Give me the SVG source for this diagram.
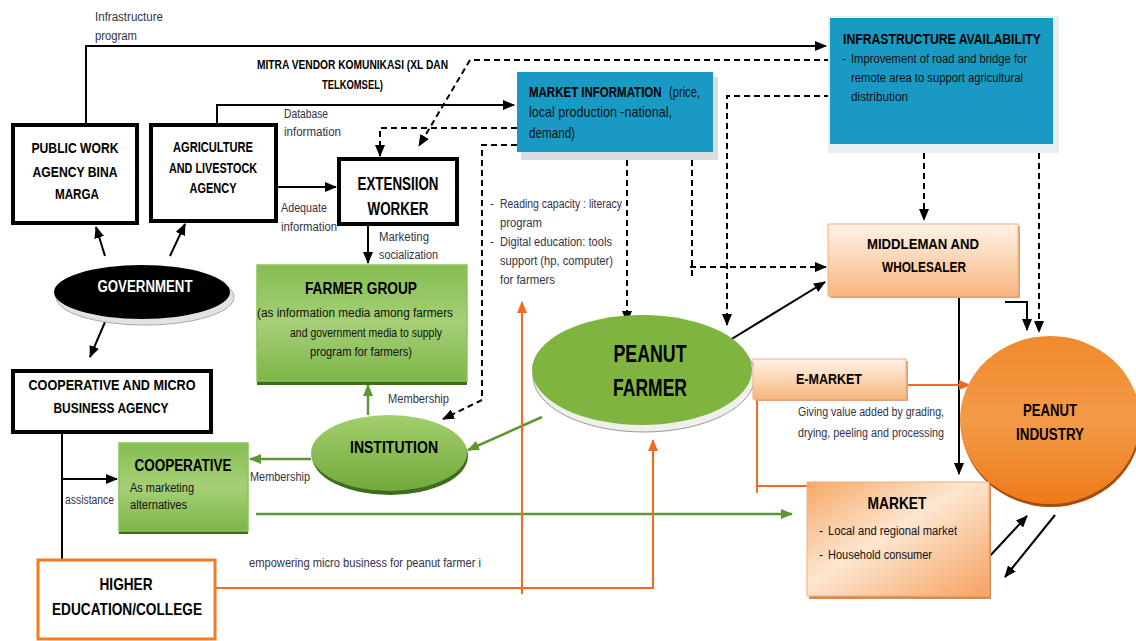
<svg xmlns="http://www.w3.org/2000/svg" width="1136" height="641" viewBox="0 0 1136 641">
<style>
text{font-family:"Liberation Sans",Arial,sans-serif;}
.b{font-weight:bold;fill:#000;}
.lbl{font-size:12px;fill:#333344;}
.d{fill:#111;}
.c{text-anchor:middle;}
.box{fill:#fff;stroke:#000;stroke-width:4;}
.ln{fill:none;stroke:#000;stroke-width:2;}
.dash{fill:none;stroke:#000;stroke-width:2;stroke-dasharray:6 4;}
.gl{fill:none;stroke:#5e9732;stroke-width:2.5;}
.ol{fill:none;stroke:#f26a22;stroke-width:2;}
</style>
<defs>
<marker id="ab" markerUnits="userSpaceOnUse" markerWidth="12" markerHeight="10" refX="11" refY="5" orient="auto"><path d="M0,0 L12,5 L0,10 Z" fill="#000"/></marker>
<marker id="ag" markerUnits="userSpaceOnUse" markerWidth="12" markerHeight="10" refX="11" refY="5" orient="auto"><path d="M0,0 L12,5 L0,10 Z" fill="#5e9732"/></marker>
<marker id="ao" markerUnits="userSpaceOnUse" markerWidth="12" markerHeight="10" refX="11" refY="5" orient="auto"><path d="M0,0 L12,5 L0,10 Z" fill="#f26a22"/></marker>
<linearGradient id="gGreen" x1="0" y1="0" x2="0" y2="1"><stop offset="0" stop-color="#86bd52"/><stop offset="0.5" stop-color="#a6d077"/><stop offset="1" stop-color="#7db548"/></linearGradient>
<linearGradient id="gPeach" x1="0" y1="0" x2="0" y2="1"><stop offset="0" stop-color="#fff3e8"/><stop offset="1" stop-color="#f8b67f"/></linearGradient>
<linearGradient id="gMarket" x1="0" y1="0" x2="1" y2="1"><stop offset="0" stop-color="#f6a868"/><stop offset="0.45" stop-color="#fde6d0"/><stop offset="1" stop-color="#f5a262"/></linearGradient>
<linearGradient id="gOrange" x1="0" y1="0" x2="0" y2="1"><stop offset="0" stop-color="#f08a2c"/><stop offset="0.5" stop-color="#f39a48"/><stop offset="1" stop-color="#ee7a18"/></linearGradient>
<linearGradient id="gInst" x1="0" y1="0" x2="0" y2="1"><stop offset="0" stop-color="#a3cf6e"/><stop offset="1" stop-color="#72a93c"/></linearGradient>
</defs>

<g id="connectors">
<path class="ln" d="M86,124 V46 H826" marker-end="url(#ab)"/>
<path class="ln" d="M217,124 V105 H514" marker-end="url(#ab)"/>
<path class="ln" d="M277,187 H336" marker-end="url(#ab)"/>
<path class="ln" d="M368,225 V263" marker-end="url(#ab)"/>
<path class="ln" d="M105,256 L96,227" marker-end="url(#ab)"/>
<path class="ln" d="M170,256 L185,224" marker-end="url(#ab)"/>
<path class="ln" d="M105,322 L90,357" marker-end="url(#ab)"/>
<path class="ln" d="M62,433 V560"/>
<path class="ln" d="M62,479 H117" marker-end="url(#ab)"/>
<path class="ln" d="M730,340 L825,282" marker-end="url(#ab)"/>
<path class="ln" d="M959,296 V474" marker-end="url(#ab)"/>
<path class="ln" d="M1005,302 H1027 V330" marker-end="url(#ab)"/>
<path class="ln" d="M988,558 L1027,516" marker-end="url(#ab)"/>
<path class="ln" d="M1055,515 L1005,577" marker-end="url(#ab)"/>
<path class="dash" d="M830,60 H470 L419,146" marker-end="url(#ab)"/>
<path class="dash" d="M517,128 H380 V156" marker-end="url(#ab)"/>
<path class="dash" d="M517,145 H482 V400 L443,419" marker-end="url(#ab)"/>
<path class="dash" d="M627,160 V322" marker-end="url(#ab)"/>
<path class="dash" d="M692,160 V276"/>
<path class="dash" d="M690,267 H826" marker-end="url(#ab)"/>
<path class="dash" d="M830,96 H727 V325" marker-end="url(#ab)"/>
<path class="dash" d="M924,153 V220" marker-end="url(#ab)"/>
<path class="dash" d="M1039,153 V332" marker-end="url(#ab)"/>
<path class="gl" d="M368,415 V385" marker-end="url(#ag)"/>
<path class="gl" d="M311,459 H250" marker-end="url(#ag)"/>
<path class="gl" d="M542,417 L468,450" marker-end="url(#ag)"/>
<path class="gl" d="M256,514 H792" marker-end="url(#ag)"/>
<path class="ol" d="M216,588 H653 V440" marker-end="url(#ao)"/>
<path class="ol" d="M522,594 V302" marker-end="url(#ao)"/>
<path class="ol" d="M906,385 H970" marker-end="url(#ao)"/>
<path class="ol" d="M757,399 V493"/>
<path class="ol" d="M757,486 H826" marker-end="url(#ao)"/>
</g>

<g id="labels">
<text class="lbl" x="95" y="21" textLength="68" lengthAdjust="spacingAndGlyphs">Infrastructure</text>
<text class="lbl" x="95" y="40" textLength="42" lengthAdjust="spacingAndGlyphs">program</text>
<text class="b" x="257" y="69" font-size="13" textLength="191" lengthAdjust="spacingAndGlyphs">MITRA VENDOR KOMUNIKASI (XL DAN</text>
<text class="b" x="322" y="89" font-size="13" textLength="61" lengthAdjust="spacingAndGlyphs">TELKOMSEL)</text>
<text class="lbl" x="284" y="118" textLength="44" lengthAdjust="spacingAndGlyphs">Database</text>
<text class="lbl" x="284" y="136" textLength="57" lengthAdjust="spacingAndGlyphs">information</text>
<text class="lbl" x="281" y="212" textLength="46" lengthAdjust="spacingAndGlyphs">Adequate</text>
<text class="lbl" x="281" y="231" textLength="56" lengthAdjust="spacingAndGlyphs">information</text>
<text class="lbl" x="379" y="241" textLength="50" lengthAdjust="spacingAndGlyphs">Marketing</text>
<text class="lbl" x="379" y="259" textLength="59" lengthAdjust="spacingAndGlyphs">socialization</text>
<text class="lbl" x="388" y="403" textLength="61" lengthAdjust="spacingAndGlyphs">Membership</text>
<text class="lbl" x="250" y="481" textLength="60" lengthAdjust="spacingAndGlyphs">Membership</text>
<text class="lbl" x="65" y="504" textLength="49" lengthAdjust="spacingAndGlyphs">assistance</text>
<text class="lbl" x="249" y="567" textLength="232" lengthAdjust="spacingAndGlyphs">empowering micro business for peanut farmer i</text>
<text class="lbl" x="798" y="416" textLength="146" lengthAdjust="spacingAndGlyphs">Giving value added by grading,</text>
<text class="lbl" x="798" y="437" textLength="146" lengthAdjust="spacingAndGlyphs">drying, peeling and processing</text>
<g class="lbl">
<text x="490" y="208">-</text><text x="500" y="208" textLength="122" lengthAdjust="spacingAndGlyphs">Reading capacity : literacy</text>
<text x="500" y="227" textLength="42" lengthAdjust="spacingAndGlyphs">program</text>
<text x="490" y="246">-</text><text x="500" y="246" textLength="112" lengthAdjust="spacingAndGlyphs">Digital education: tools</text>
<text x="500" y="265" textLength="113" lengthAdjust="spacingAndGlyphs">support (hp, computer)</text>
<text x="500" y="284" textLength="55" lengthAdjust="spacingAndGlyphs">for farmers</text>
</g>
</g>

<g id="public-work">
<rect class="box" x="13" y="125" width="124" height="98"/>
<text class="b c" x="75" y="153" font-size="15" textLength="87" lengthAdjust="spacingAndGlyphs">PUBLIC WORK</text>
<text class="b c" x="75" y="177" font-size="15" textLength="85" lengthAdjust="spacingAndGlyphs">AGENCY BINA</text>
<text class="b c" x="77" y="199" font-size="15" textLength="44" lengthAdjust="spacingAndGlyphs">MARGA</text>
</g>

<g id="agriculture">
<rect class="box" x="151" y="125" width="125" height="96"/>
<text class="b c" x="213" y="152" font-size="15" textLength="80" lengthAdjust="spacingAndGlyphs">AGRICULTURE</text>
<text class="b c" x="213" y="173" font-size="15" textLength="88" lengthAdjust="spacingAndGlyphs">AND LIVESTOCK</text>
<text class="b c" x="213" y="193" font-size="15" textLength="47" lengthAdjust="spacingAndGlyphs">AGENCY</text>
</g>

<g id="extension-worker">
<rect class="box" x="339" y="159" width="118" height="65"/>
<text class="b c" x="398" y="190" font-size="18" textLength="81" lengthAdjust="spacingAndGlyphs">EXTENSIION</text>
<text class="b c" x="398" y="215" font-size="18" textLength="61" lengthAdjust="spacingAndGlyphs">WORKER</text>
</g>

<g id="market-information">
<rect x="521" y="77" width="197" height="83" fill="#d9dde0"/>
<rect x="517" y="72" width="196" height="80" fill="#189ac4"/>
<text transform="translate(529,97) scale(0.92,1.16)" font-size="12.5" class="b">MARKET INFORMATION</text>
<text x="669" y="97" font-size="14.5" class="d" textLength="31" lengthAdjust="spacingAndGlyphs">(price,</text>
<text x="529" y="117" font-size="14.5" class="d" textLength="143" lengthAdjust="spacingAndGlyphs">local production -national,</text>
<text x="529" y="138" font-size="14.5" class="d" textLength="46" lengthAdjust="spacingAndGlyphs">demand)</text>
</g>

<g id="infrastructure-availability">
<rect x="828" y="16" width="231" height="137" fill="#e8eef2"/>
<rect x="830" y="18" width="223" height="126" fill="#189ac4"/>
<text class="b" x="843" y="44" font-size="14.5" textLength="198" lengthAdjust="spacingAndGlyphs">INFRASTRUCTURE AVAILABILITY</text>
<text x="842" y="63" font-size="12.5" class="d">-</text>
<text x="851" y="63" font-size="12.5" class="d" textLength="176" lengthAdjust="spacingAndGlyphs">Improvement of road and bridge for</text>
<text x="851" y="82" font-size="12.5" class="d" textLength="172" lengthAdjust="spacingAndGlyphs">remote area to support agricultural</text>
<text x="851" y="101" font-size="12.5" class="d" textLength="57" lengthAdjust="spacingAndGlyphs">distribution</text>
</g>

<g id="government">
<ellipse cx="145" cy="297" rx="89" ry="28" fill="#e2e2e2" stroke="#aaa"/>
<ellipse cx="142" cy="292" rx="88" ry="27" fill="#000"/>
<text class="c" x="145" y="292" font-size="16" font-weight="bold" fill="#fff" textLength="95" lengthAdjust="spacingAndGlyphs">GOVERNMENT</text>
</g>

<g id="farmer-group">
<rect x="257" y="268" width="210" height="117" fill="#3f6b1e"/>
<rect x="257" y="265" width="210" height="116" fill="url(#gGreen)" stroke="#8cc45a" stroke-width="1.5"/>
<text class="b c" x="361" y="294" font-size="17" textLength="112" lengthAdjust="spacingAndGlyphs">FARMER GROUP</text>
<text class="c d" x="355" y="317" font-size="12.5" textLength="196" lengthAdjust="spacingAndGlyphs">(as information media among farmers</text>
<text class="c d" x="366" y="337" font-size="12.5" textLength="152" lengthAdjust="spacingAndGlyphs">and government media to supply</text>
<text class="c d" x="361" y="356" font-size="12.5" textLength="102" lengthAdjust="spacingAndGlyphs">program for farmers)</text>
</g>

<g id="coop-agency">
<rect class="box" x="13" y="371" width="198" height="61"/>
<text class="b c" x="112" y="390" font-size="15" textLength="167" lengthAdjust="spacingAndGlyphs">COOPERATIVE AND MICRO</text>
<text class="b c" x="111" y="413" font-size="15" textLength="115" lengthAdjust="spacingAndGlyphs">BUSINESS AGENCY</text>
</g>

<g id="cooperative">
<rect x="119" y="446" width="129" height="88" fill="#3f6b1e"/>
<rect x="119" y="443" width="129" height="88" fill="url(#gGreen)" stroke="#8cc45a" stroke-width="1.5"/>
<text class="b c" x="183" y="471" font-size="16" textLength="97" lengthAdjust="spacingAndGlyphs">COOPERATIVE</text>
<text x="130" y="492" font-size="12.5" class="d" textLength="64" lengthAdjust="spacingAndGlyphs">As marketing</text>
<text x="130" y="509" font-size="12.5" class="d" textLength="57" lengthAdjust="spacingAndGlyphs">alternatives</text>
</g>

<g id="institution">
<ellipse cx="390" cy="456" rx="78" ry="39" fill="#3f6b1e"/>
<ellipse cx="389" cy="453" rx="78" ry="38" fill="url(#gInst)"/>
<text class="b c" x="394" y="453" font-size="16" textLength="88" lengthAdjust="spacingAndGlyphs">INSTITUTION</text>
</g>

<g id="higher-education">
<rect x="38" y="560" width="177" height="79" fill="#fff" stroke="#f47b20" stroke-width="3"/>
<text class="b c" x="126" y="590" font-size="17" textLength="53" lengthAdjust="spacingAndGlyphs">HIGHER</text>
<text class="b c" x="127" y="615" font-size="17" textLength="150" lengthAdjust="spacingAndGlyphs">EDUCATION/COLLEGE</text>
</g>

<g id="peanut-farmer">
<ellipse cx="644" cy="376" rx="111" ry="56" fill="#eef0ea" stroke="#9a9a9a"/>
<ellipse cx="642" cy="370" rx="110" ry="55" fill="#7fb53f"/>
<text class="b c" x="650" y="362" font-size="23" textLength="73" lengthAdjust="spacingAndGlyphs">PEANUT</text>
<text class="b c" x="650" y="396" font-size="23" textLength="74" lengthAdjust="spacingAndGlyphs">FARMER</text>
</g>

<g id="middleman">
<rect x="830" y="226" width="190" height="72" fill="#e0a27a"/>
<rect x="828" y="224" width="190" height="72" fill="url(#gPeach)" stroke="#f6b07a"/>
<text class="b c" x="923" y="249" font-size="14.5" textLength="112" lengthAdjust="spacingAndGlyphs">MIDDLEMAN AND</text>
<text class="b c" x="924" y="272" font-size="14.5" textLength="84" lengthAdjust="spacingAndGlyphs">WHOLESALER</text>
</g>

<g id="e-market">
<rect x="755" y="361" width="153" height="40" fill="#e0a27a"/>
<rect x="753" y="359" width="153" height="40" fill="url(#gPeach)" stroke="#f6b07a"/>
<text class="b c" x="829" y="384" font-size="15" textLength="66" lengthAdjust="spacingAndGlyphs">E-MARKET</text>
</g>

<g id="peanut-industry">
<ellipse cx="1051" cy="423" rx="90" ry="84" fill="#a84c0c"/>
<ellipse cx="1050" cy="420" rx="90" ry="84" fill="url(#gOrange)"/>
<text class="b c" x="1050" y="416" font-size="16" textLength="54" lengthAdjust="spacingAndGlyphs">PEANUT</text>
<text class="b c" x="1050" y="440" font-size="16" textLength="68" lengthAdjust="spacingAndGlyphs">INDUSTRY</text>
</g>

<g id="market">
<rect x="809" y="485" width="182" height="114" fill="#d58b55"/>
<rect x="807" y="482" width="182" height="114" fill="url(#gMarket)" stroke="#f6b07a"/>
<text class="b c" x="897" y="509" font-size="17" textLength="59" lengthAdjust="spacingAndGlyphs">MARKET</text>
<text x="819" y="535" font-size="12.5" class="d">-</text>
<text x="828" y="535" font-size="12.5" class="d" textLength="129" lengthAdjust="spacingAndGlyphs">Local and  regional market</text>
<text x="819" y="559" font-size="12.5" class="d">-</text>
<text x="828" y="559" font-size="12.5" class="d" textLength="104" lengthAdjust="spacingAndGlyphs">Household consumer</text>
</g>
</svg>
